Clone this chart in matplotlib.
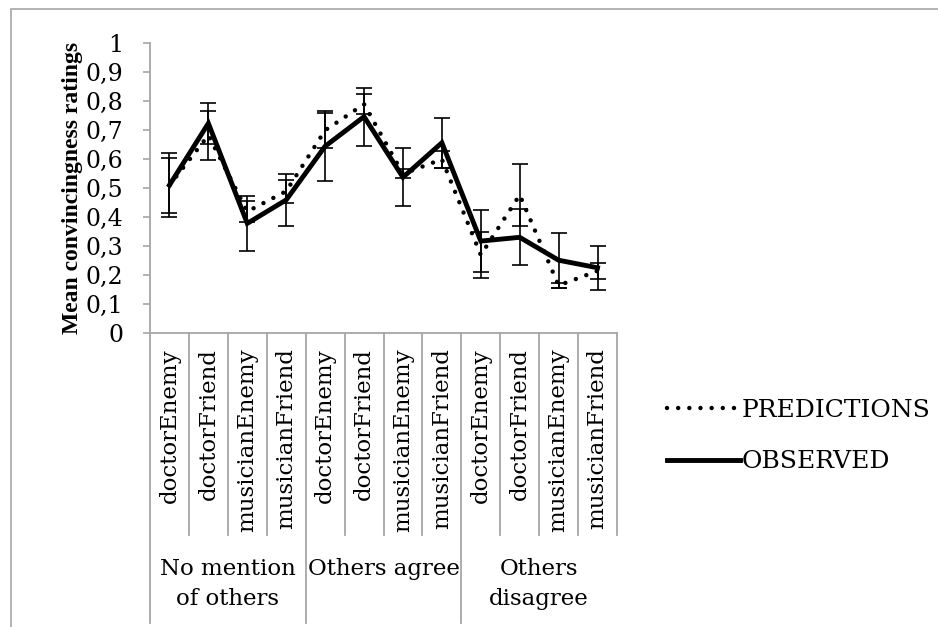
import matplotlib.pyplot as plt
from matplotlib.lines import Line2D
from matplotlib.patches import Rectangle
import matplotlib.transforms as mtransforms

plt.rcParams['font.family'] = ['DejaVu Serif']

# --- data ---
categories = ["doctorEnemy", "doctorFriend", "musicianEnemy", "musicianFriend"] * 3
groups = ["No mention\nof others", "Others agree", "Others\ndisagree"]

predictions = [0.51, 0.683, 0.42, 0.49, 0.70, 0.79, 0.55, 0.60, 0.27, 0.477, 0.165, 0.215]
pred_err = [0.095, 0.085, 0.037, 0.04, 0.06, 0.035, 0.016, 0.03, 0.08, 0.107, 0.01, 0.027]

observed = [0.511, 0.724, 0.379, 0.46, 0.645, 0.747, 0.538, 0.657, 0.318, 0.331, 0.252, 0.226]
obs_err = [0.11, 0.07, 0.095, 0.09, 0.12, 0.1, 0.1, 0.087, 0.107, 0.097, 0.095, 0.075]

yticks = [0, 0.1, 0.2, 0.3, 0.4, 0.5, 0.6, 0.7, 0.8, 0.9, 1]
ytick_labels = ["0", "0,1", "0,2", "0,3", "0,4", "0,5", "0,6", "0,7", "0,8", "0,9", "1"]

grey = "#a6a6a6"
fs = 16.5

fig = plt.figure(figsize=(9.38, 6.27), dpi=100)
ax = fig.add_axes([150 / 938, 1 - 333.3 / 627, 467 / 938, 290 / 627])

x = list(range(len(categories)))

# error bars (both series)
ax.errorbar(x, predictions, yerr=pred_err, fmt="none", ecolor="black",
            elinewidth=1.2, capsize=6, capthick=1.2)
ax.errorbar(x, observed, yerr=obs_err, fmt="none", ecolor="black",
            elinewidth=1.2, capsize=6, capthick=1.2)

ax.plot(x, predictions, color="black", lw=3.2, linestyle=(0, (0.01, 2.5)),
        dash_capstyle="round", solid_capstyle="round")
ax.plot(x, observed, color="black", lw=3.5, solid_joinstyle="miter")

ax.set_xlim(-0.5, len(categories) - 0.5)
ax.set_ylim(0, 1)
ax.set_yticks(yticks)
ax.set_yticklabels(ytick_labels, fontsize=17)
ax.tick_params(axis="y", direction="out", length=5, color=grey, width=1.2, pad=14)
ax.set_xticks([])

for s in ["top", "right"]:
    ax.spines[s].set_visible(False)
for s in ["left", "bottom"]:
    ax.spines[s].set_color(grey)
    ax.spines[s].set_linewidth(1.3)

ax.set_ylabel("Mean convincingness ratings", fontsize=17, fontweight="bold",
              family="Liberation Serif", labelpad=2)

# category table below the axis
trans = mtransforms.blended_transform_factory(ax.transData, ax.transAxes)
for i in range(len(categories) + 1):
    xb = i - 0.5
    if i % 4 == 0 and i < len(categories):
        y_end = -1.0
    else:
        y_end = -0.695
    ax.plot([xb, xb], [0, y_end], color=grey, lw=1.3, transform=trans, clip_on=False)

for i, c in enumerate(categories):
    ax.text(i, -0.05, c, rotation=90, ha="center", va="top", fontsize=fs,
            transform=trans)

for g, name in enumerate(groups):
    ax.text(4 * g + 1.5, -0.775, name, ha="center", va="top", fontsize=fs,
            linespacing=1.45, transform=trans)

# legend
handles = [
    Line2D([], [], color="black", lw=3.2, linestyle=(0, (0.01, 2.5)), dash_capstyle="round"),
    Line2D([], [], color="black", lw=3.5),
]
fig.legend(handles, ["PREDICTIONS", "OBSERVED"], loc="center left",
           bbox_to_anchor=(667 / 938, 1 - 436 / 627), frameon=False, fontsize=18,
           handlelength=2.9, handletextpad=0.1, labelspacing=1.15, borderpad=0,
           borderaxespad=0)

# outer chart frame
fig.patches.append(Rectangle((11 / 938, -0.2), 1.5, 1.2 - 9 / 627, transform=fig.transFigure,
                             fill=False, edgecolor=grey, lw=1.2, figure=fig))

fig.savefig("out.png", dpi=100)
